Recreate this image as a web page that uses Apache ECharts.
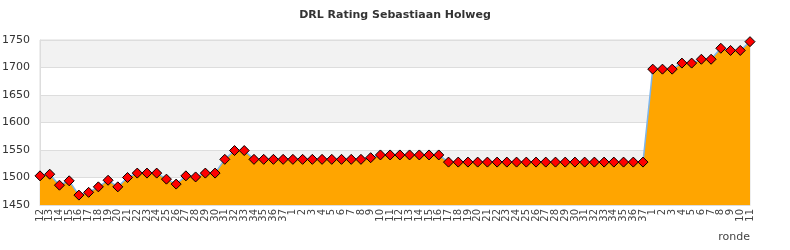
<!DOCTYPE html>
<html>
<head>
<meta charset="utf-8">
<script src="https://cdn.jsdelivr.net/npm/echarts@6/dist/echarts.min.js"></script>
<style>html,body{margin:0;padding:0;background:#fff;}#c{width:790px;height:250px;}</style>
</head>
<body>
<div id="c"></div>
<script>
var titleText = 'DRL Rating Sebastiaan Holweg';
var axisName = 'ronde';
var rounds = ['12','13','14','15','16','17','18','19','20','21','22','23','24','25','26','27','28','29','30','31','32','33','34','35','36','37',
  '1','2','3','4','5','6','7','8','9','10','11','12','13','14','15','16','17','18','19','20','21','22','23','24','25','26','27','28','29','30','31','32','33','34','35','36','37',
  '1','2','3','4','5','6','7','8','9','10','11'];
var rating = [1503,1506,1486,1494,1468,1473,1483,1495,1483,1500,1508,1508,1508,1497,1488,1503,1501,1508,1508,1533,
  1549,1549,
  1533,1533,1533,1533,1533,1533,1533,1533,1533,1533,1533,1533,
  1536,
  1541,1541,1541,1541,1541,1541,1541,
  1528,1528,1528,1528,1528,1528,1528,1528,1528,1528,1528,1528,1528,1528,1528,1528,1528,1528,1528,1528,1528,
  1697,1697,1697,1708,1708,1715,1715,1735,1731,1731,1747];
var yMin = 1450, yMax = 1750, yStep = 50;

var chart = echarts.init(document.getElementById('c'), null, {renderer:'canvas'});
chart.setOption({
  animation: false,
  backgroundColor: '#fff',
  title: {
    text: titleText, left: 'center', top: 5,
    textStyle: {fontFamily: 'DejaVu Sans', fontSize: 11, fontWeight: 'bold', color: '#333'}
  },
  grid: {left: 40, right: 40, top: 40, bottom: 45, containLabel: false, outerBoundsMode: 'none',
    show: true, borderColor: '#ddd', borderWidth: 1, backgroundColor: 'transparent'},
  xAxis: {
    type: 'category', data: rounds, boundaryGap: false,
    name: axisName, nameLocation: 'end', nameGap: 0,
    nameTextStyle: {fontFamily: 'DejaVu Sans', fontSize: 11, color: '#444', align: 'right', verticalAlign: 'top', padding: [27, 0, 0, 0]},
    axisLine: {lineStyle: {color: '#ddd'}},
    axisTick: {show: false},
    axisLabel: {interval: 0, rotate: 90, fontFamily: 'DejaVu Sans', fontSize: 10, color: '#444', margin: 4},
    splitLine: {show: false}
  },
  yAxis: {
    type: 'value', min: yMin, max: yMax, interval: yStep,
    axisLine: {show: true, lineStyle: {color: '#ddd'}},
    axisTick: {show: false},
    axisLabel: {fontFamily: 'DejaVu Sans', fontSize: 11, color: '#333', margin: 10, formatter: function (v) { return String(v); }},
    splitLine: {lineStyle: {color: '#ddd'}},
    splitArea: {show: true, areaStyle: {color: ['#ffffff', '#f2f2f2']}}
  },
  series: [{
    type: 'line', data: rating,
    symbol: 'diamond', symbolSize: 10,
    itemStyle: {color: '#ff0000', borderColor: '#000', borderWidth: 1},
    lineStyle: {color: '#7cb5ec', width: 1.5},
    areaStyle: {color: '#ffa500', opacity: 1, origin: 'start'}
  }]
});
</script>
</body>
</html>
